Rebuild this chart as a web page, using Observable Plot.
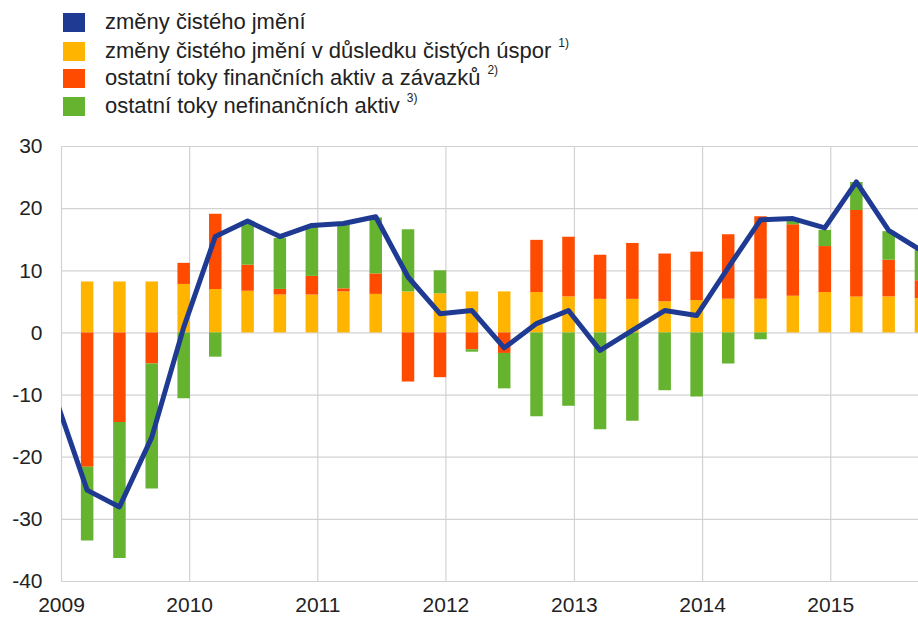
<!DOCTYPE html>
<html><head><meta charset="utf-8">
<script src="https://cdn.jsdelivr.net/npm/d3@7"></script>
<script src="https://cdn.jsdelivr.net/npm/@observablehq/plot@0.6"></script>
<style>
body{margin:0;background:#fff;font-family:"Liberation Sans",Arial,sans-serif;}
#legend{position:relative;height:120px;width:918px;}
.row{position:absolute;left:63px;height:22px;display:flex;align-items:center;font-size:22px;color:#222;white-space:nowrap;}
.sw{width:22px;height:19px;margin-right:20px;flex:none;}
.sup{font-size:12px;position:relative;top:-8px;margin-left:7px;}
#chart{position:absolute;left:0;top:120px;}
</style>
</head><body>
<div id="legend"></div>
<div id="chart"></div>
<script>
// ---- data ----
const seriesNames = ["změny čistého jmění", "změny čistého jmění v důsledku čistých úspor", "ostatní toky finančních aktiv a závazků", "ostatní toky nefinančních aktiv"];
const seriesNotes = ["", "1)", "2)", "3)"];
const seriesColors = ["#1f3a93", "#ffb400", "#ff4b00", "#65b32e"];
const yearTicks = [2009, 2010, 2011, 2012, 2013, 2014, 2015];
const yTicks = [-40, -30, -20, -10, 0, 10, 20, 30];
// quarter ends (line starts one quarter earlier, clipped at the frame)
const lineQuarters = ["2008-12-15",
  "2009-03-15","2009-06-15","2009-09-15","2009-12-15",
  "2010-03-15","2010-06-15","2010-09-15","2010-12-15",
  "2011-03-15","2011-06-15","2011-09-15","2011-12-15",
  "2012-03-15","2012-06-15","2012-09-15","2012-12-15",
  "2013-03-15","2013-06-15","2013-09-15","2013-12-15",
  "2014-03-15","2014-06-15","2014-09-15","2014-12-15",
  "2015-03-15","2015-06-15","2015-09-15"];
const netWorth = [-10.5,
  -25.3, -28.0, -16.8, 0.9,
  15.5, 18.0, 15.5, 17.3,
  17.6, 18.7, 9.0, 3.1,
  3.6, -2.4, 1.5, 3.6,
  -2.8, 0.4, 3.6, 2.8,
  10.5, 18.2, 18.4, 16.9,
  24.3, 16.5, 13.3];
const barQuarters = lineQuarters.slice(1);
const savings = [8.2, 8.2, 8.2, 7.8,
  7.0, 6.7, 6.1, 6.1,
  6.6, 6.2, 6.6, 6.3,
  6.6, 6.6, 6.5, 5.8,
  5.4, 5.4, 5.0, 5.2,
  5.4, 5.4, 5.9, 6.5,
  5.8, 5.8, 5.5];
const finFlows = [-21.6, -14.4, -5.0, 3.4,
  12.1, 4.2, 0.9, 3.0,
  0.5, 3.3, -7.9, -7.2,
  -2.7, -3.3, 8.4, 9.6,
  7.1, 9.0, 7.7, 7.8,
  10.4, 13.3, 11.5, 7.4,
  13.9, 5.9, 2.9];
const nonFinFlows = [-11.9, -21.9, -20.1, -10.6,
  -3.9, 7.0, 8.2, 7.9,
  10.4, 9.0, 10.0, 3.7,
  -0.4, -5.7, -13.5, -11.8,
  -15.6, -14.2, -9.3, -10.3,
  -5.0, -1.1, 1.0, 2.6,
  4.5, 4.6, 4.9];

// ---- legend ----
const legend = document.getElementById("legend");
const rowTops = [11, 40, 67, 95];
seriesNames.forEach((name, i) => {
  const r = document.createElement("div");
  r.className = "row";
  r.style.top = rowTops[i] + "px";
  r.innerHTML = `<span class="sw" style="background:${seriesColors[i]}"></span><span>${name}</span>` +
    (seriesNotes[i] ? `<span class="sup">${seriesNotes[i]}</span>` : "");
  legend.appendChild(r);
});

// ---- tables ----
const parse = s => new Date(s + "T00:00:00Z");
const lineData = lineQuarters.map((q, i) => ({date: parse(q), value: netWorth[i]}));
const barSeries = [[seriesNames[1], savings], [seriesNames[2], finFlows], [seriesNames[3], nonFinFlows]];
const barData = [];
barQuarters.forEach((q, i) => {
  barSeries.forEach(([name, vals]) => barData.push({date: parse(q), series: name, value: vals[i]}));
});
const yearDates = yearTicks.map(y => new Date(Date.UTC(y, 0, 1)));

const chart = Plot.plot({
  width: 918,
  height: 497,
  marginLeft: 61,
  marginRight: 0,
  marginTop: 26,
  marginBottom: 36,
  style: {fontFamily: "'Liberation Sans', Arial, sans-serif", fontSize: "21px", color: "#222", background: "#fff"},
  x: {type: "utc", domain: [new Date(Date.UTC(2009, 0, 1)), new Date(Date.UTC(2015, 8, 8))],
      ticks: yearDates, tickFormat: d3.utcFormat("%Y"), tickSize: 0, tickPadding: 16, label: null},
  y: {domain: [-40, 30], ticks: yTicks, tickFormat: d => String(d), tickSize: 0, tickPadding: 19, label: null},
  color: {domain: seriesNames, range: seriesColors},
  marks: [
    Plot.ruleY(yTicks, {stroke: "#d2d2d2", strokeWidth: 1.2}),
    Plot.ruleX(yearDates, {stroke: "#d2d2d2", strokeWidth: 1.2}),
    Plot.ruleX(barData, Plot.stackY({x: "date", y: "value", z: "series", stroke: "series", strokeWidth: 12.5, order: seriesNames.slice(1), clip: true})),
    Plot.line(lineData, {x: "date", y: "value", stroke: seriesColors[0], strokeWidth: 5, strokeLinejoin: "round", clip: true})
  ]
});
document.getElementById("chart").appendChild(chart);
</script>
</body></html>
